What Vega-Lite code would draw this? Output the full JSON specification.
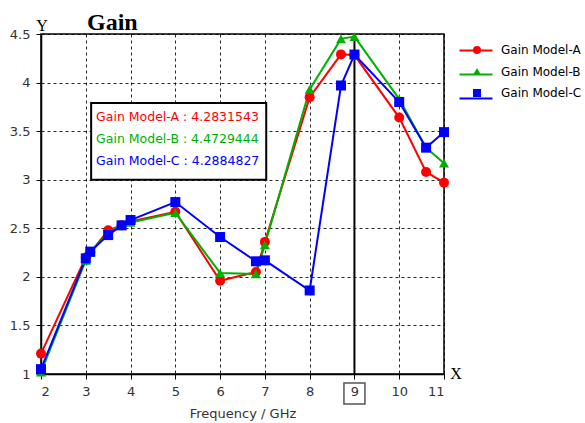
{
  "$schema": "https://vega.github.io/schema/vega-lite/v6.json",
  "width": 403,
  "height": 340,
  "autosize": {"type": "none"},
  "padding": {"left": 41, "top": 34, "right": 141, "bottom": 49},
  "background": "white",
  "config": {
    "view": {"stroke": "black", "strokeWidth": 1.5},
    "axis": {"domainColor": "black", "domainWidth": 1.5, "tickColor": "black", "tickSize": 5, "gridColor": "black", "gridDash": [3, 3], "gridOpacity": 0.85, "labelFont": "DejaVu Sans", "labelFontSize": 13, "labelColor": "#333", "titleFont": "DejaVu Sans", "titleFontWeight": "normal", "titleFontSize": 13, "titleColor": "#333"},
    "legend": {"title": null, "orient": "none", "padding": 0, "labelFont": "DejaVu Sans", "labelFontSize": 12}
  },
  "datasets": {
    "gain": [
      {"series": "Gain Model-A", "f": 2.0, "g": 1.21},
      {"series": "Gain Model-A", "f": 3.0, "g": 2.2},
      {"series": "Gain Model-A", "f": 3.1, "g": 2.25},
      {"series": "Gain Model-A", "f": 3.5, "g": 2.48},
      {"series": "Gain Model-A", "f": 3.8, "g": 2.53},
      {"series": "Gain Model-A", "f": 4.0, "g": 2.57},
      {"series": "Gain Model-A", "f": 5.0, "g": 2.67},
      {"series": "Gain Model-A", "f": 6.0, "g": 1.96},
      {"series": "Gain Model-A", "f": 6.8, "g": 2.05},
      {"series": "Gain Model-A", "f": 7.0, "g": 2.36},
      {"series": "Gain Model-A", "f": 8.0, "g": 3.85},
      {"series": "Gain Model-A", "f": 8.7, "g": 4.29},
      {"series": "Gain Model-A", "f": 9.0, "g": 4.2831543},
      {"series": "Gain Model-A", "f": 10.0, "g": 3.64},
      {"series": "Gain Model-A", "f": 10.6, "g": 3.08},
      {"series": "Gain Model-A", "f": 11.0, "g": 2.97},
      {"series": "Gain Model-B", "f": 2.0, "g": 1.02},
      {"series": "Gain Model-B", "f": 3.0, "g": 2.17},
      {"series": "Gain Model-B", "f": 3.1, "g": 2.25},
      {"series": "Gain Model-B", "f": 3.5, "g": 2.45},
      {"series": "Gain Model-B", "f": 3.8, "g": 2.54},
      {"series": "Gain Model-B", "f": 4.0, "g": 2.56},
      {"series": "Gain Model-B", "f": 5.0, "g": 2.66},
      {"series": "Gain Model-B", "f": 6.0, "g": 2.04},
      {"series": "Gain Model-B", "f": 6.8, "g": 2.03},
      {"series": "Gain Model-B", "f": 7.0, "g": 2.33},
      {"series": "Gain Model-B", "f": 8.0, "g": 3.93},
      {"series": "Gain Model-B", "f": 8.7, "g": 4.45},
      {"series": "Gain Model-B", "f": 9.0, "g": 4.4729444},
      {"series": "Gain Model-B", "f": 10.0, "g": 3.83},
      {"series": "Gain Model-B", "f": 10.6, "g": 3.33},
      {"series": "Gain Model-B", "f": 11.0, "g": 3.17},
      {"series": "Gain Model-C", "f": 2.0, "g": 1.05},
      {"series": "Gain Model-C", "f": 3.0, "g": 2.19},
      {"series": "Gain Model-C", "f": 3.1, "g": 2.26},
      {"series": "Gain Model-C", "f": 3.5, "g": 2.43},
      {"series": "Gain Model-C", "f": 3.8, "g": 2.53},
      {"series": "Gain Model-C", "f": 4.0, "g": 2.585},
      {"series": "Gain Model-C", "f": 5.0, "g": 2.77},
      {"series": "Gain Model-C", "f": 6.0, "g": 2.41},
      {"series": "Gain Model-C", "f": 6.8, "g": 2.16},
      {"series": "Gain Model-C", "f": 7.0, "g": 2.17},
      {"series": "Gain Model-C", "f": 8.0, "g": 1.86},
      {"series": "Gain Model-C", "f": 8.7, "g": 3.97},
      {"series": "Gain Model-C", "f": 9.0, "g": 4.2884827},
      {"series": "Gain Model-C", "f": 10.0, "g": 3.8},
      {"series": "Gain Model-C", "f": 10.6, "g": 3.33},
      {"series": "Gain Model-C", "f": 11.0, "g": 3.49}
    ],
    "note": [
      {"series": "Gain Model-A", "label": "Gain Model-A : 4.2831543", "f": 3.23, "g": 3.65},
      {"series": "Gain Model-B", "label": "Gain Model-B : 4.4729444", "f": 3.23, "g": 3.42},
      {"series": "Gain Model-C", "label": "Gain Model-C : 4.2884827", "f": 3.23, "g": 3.19}
    ],
    "box": [{"f": 3.12, "f2": 7.03, "g": 3.79, "g2": 3.0}],
    "marker": [{"f": 9, "g": 0.8, "label": "9"}],
    "corner": [{"f": 2, "g": 4.5, "label": "Y", "title": "Gain"}],
    "xlab": [{"f": 11, "g": 1, "label": "X"}]
  },
  "layer": [
    {
      "data": {"name": "box"},
      "mark": {"type": "rect", "fill": "white", "stroke": "black", "strokeWidth": 2},
      "encoding": {
        "x": {"field": "f", "type": "quantitative"},
        "x2": {"field": "f2"},
        "y": {"field": "g", "type": "quantitative"},
        "y2": {"field": "g2"}
      }
    },
    {
      "data": {"name": "marker"},
      "mark": {"type": "rule", "color": "black", "strokeWidth": 2},
      "encoding": {
        "x": {"field": "f", "type": "quantitative"}
      }
    },
    {
      "data": {"name": "gain"},
      "mark": {"type": "line", "strokeWidth": 2},
      "encoding": {
        "x": {"field": "f", "type": "quantitative", "scale": {"domain": [2, 11], "nice": false, "zero": false},
          "axis": {"values": [2, 3, 4, 5, 6, 7, 8, 9, 10, 11], "title": "Frequency / GHz", "grid": true, "labelPadding": 6, "titlePadding": 9}},
        "y": {"field": "g", "type": "quantitative", "scale": {"domain": [1, 4.5], "nice": false, "zero": false},
          "axis": {"values": [1, 1.5, 2, 2.5, 3, 3.5, 4, 4.5], "format": "~g", "title": null, "grid": true, "labelPadding": 6}},
        "stroke": {"field": "series", "type": "nominal",
          "scale": {"range": ["#ff0000", "#00b000", "#0000ff"]},
          "legend": {"legendX": 417.5, "legendY": -1, "symbolType": "stroke", "symbolSize": 1089, "symbolStrokeWidth": 2, "rowPadding": -13.5, "labelOffset": 5, "labelExpr": "''"}},
        "order": {"field": "f", "type": "quantitative"}
      }
    },
    {
      "data": {"name": "gain"},
      "mark": {"type": "point", "filled": true, "opacity": 1, "size": 100},
      "encoding": {
        "x": {"field": "f", "type": "quantitative"},
        "y": {"field": "g", "type": "quantitative"},
        "color": {"field": "series", "type": "nominal",
          "scale": {"domain": ["Gain Model-A", "Gain Model-B", "Gain Model-C"], "range": ["#ff0000", "#00b000", "#0000ff"]},
          "legend": {"legendX": 430, "legendY": 10, "symbolSize": 64, "labelOffset": 18, "rowPadding": 9.5,
            "encode": {"labels": {"update": {"fill": {"scale": "color", "field": "value"}}}}}},
        "shape": {"field": "series", "type": "nominal",
          "scale": {"domain": ["Gain Model-A", "Gain Model-B", "Gain Model-C"], "range": ["circle", "triangle-up", "square"]},
          "legend": {"legendX": 430, "legendY": 10, "symbolSize": 64, "labelOffset": 18, "rowPadding": 9.5,
            "encode": {"labels": {"update": {"fill": {"scale": "color", "field": "value"}}}}}}
      }
    },
    {
      "data": {"name": "note"},
      "mark": {"type": "text", "align": "left", "baseline": "middle", "font": "DejaVu Sans", "fontSize": 12.5},
      "encoding": {
        "x": {"field": "f", "type": "quantitative"},
        "y": {"field": "g", "type": "quantitative"},
        "text": {"field": "label"},
        "color": {"field": "series", "type": "nominal"}
      }
    },
    {
      "data": {"name": "marker"},
      "mark": {"type": "point", "shape": "square", "size": 441, "filled": false, "stroke": "#555", "strokeWidth": 1.5, "opacity": 1},
      "encoding": {
        "x": {"field": "f", "type": "quantitative"},
        "y": {"field": "g", "type": "quantitative"}
      }
    },
    {
      "data": {"name": "corner"},
      "mark": {"type": "text", "align": "center", "baseline": "alphabetic", "dx": 1, "dy": -3, "font": "Liberation Serif", "fontSize": 16, "color": "black"},
      "encoding": {
        "x": {"field": "f", "type": "quantitative"},
        "y": {"field": "g", "type": "quantitative"},
        "text": {"field": "label"}
      }
    },
    {
      "data": {"name": "corner"},
      "mark": {"type": "text", "align": "left", "baseline": "alphabetic", "dx": 46, "dy": -4, "font": "Liberation Serif", "fontSize": 24, "fontWeight": "bold", "color": "black"},
      "encoding": {
        "x": {"field": "f", "type": "quantitative"},
        "y": {"field": "g", "type": "quantitative"},
        "text": {"field": "title"}
      }
    },
    {
      "data": {"name": "xlab"},
      "mark": {"type": "text", "align": "center", "baseline": "middle", "dx": 12, "font": "Liberation Serif", "fontSize": 16, "color": "black"},
      "encoding": {
        "x": {"field": "f", "type": "quantitative"},
        "y": {"field": "g", "type": "quantitative"},
        "text": {"field": "label"}
      }
    }
  ]
}
